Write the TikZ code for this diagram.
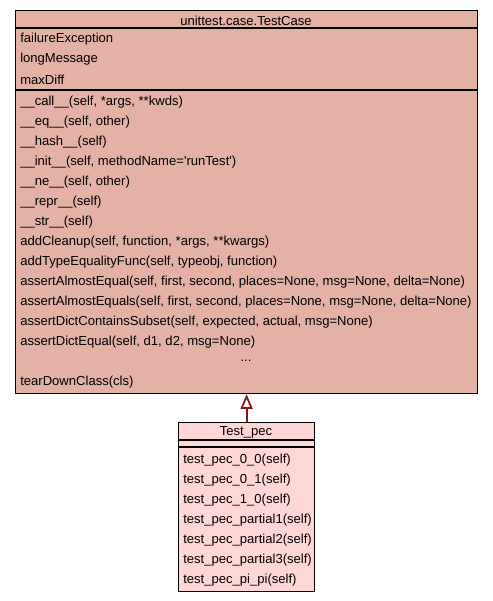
\documentclass[tikz,border=0pt]{standalone}
\usepackage{fontspec}
\setmainfont{Liberation Sans}
\usetikzlibrary{arrows.meta}
\definecolor{basefill}{RGB}{227,178,165}
\definecolor{derivfill}{RGB}{255,214,214}
\definecolor{inhcol}{RGB}{139,20,20}
\tikzset{
  member/.style={anchor=west, inner sep=0pt, font=\fontsize{9.8}{11}\selectfont},
  title/.style={inner sep=0pt, font=\fontsize{9.8}{11}\selectfont},
  classbox/.style={draw=black, line width=0.9pt, anchor=north west, inner sep=0pt}
}
\begin{document}
\begin{tikzpicture}[x=0.75pt, y=-0.75pt]
\useasboundingbox (0,0) rectangle (493,601);
% base class
\node[classbox, fill=basefill, minimum width=346.5pt, minimum height=287.25pt] (tc) at (15,10) {};
\draw[line width=0.9pt] (15,28) -- (477,28);
\draw[line width=0.9pt] (15,90) -- (477,90);
\node[title] (tctitle) at (246,20.5) {unittest.case.TestCase};
\foreach \a [count=\i] in {failureException,longMessage,maxDiff}
  \node[member] (attr\i) at (20,{19.5+20*\i}) {\a};
\foreach \m [count=\i] in {
  {\_\_call\_\_(self, *args, **kwds)},
  {\_\_eq\_\_(self, other)},
  {\_\_hash\_\_(self)},
  {\_\_init\_\_(self, methodName=\textquotesingle runTest\textquotesingle)},
  {\_\_ne\_\_(self, other)},
  {\_\_repr\_\_(self)},
  {\_\_str\_\_(self)},
  {addCleanup(self, function, *args, **kwargs)},
  {addTypeEqualityFunc(self, typeobj, function)},
  {assertAlmostEqual(self, first, second, places=None, msg=None, delta=None)},
  {assertAlmostEquals(self, first, second, places=None, msg=None, delta=None)},
  {assertDictContainsSubset(self, expected, actual, msg=None)},
  {assertDictEqual(self, d1, d2, msg=None)}}
  \node[member] (meth\i) at (20,{82.5+20*\i}) {\m};
\node[title] (dots) at (246,360.5) {...};
\node[member] (teardown) at (20,382.5) {tearDownClass(cls)};
% derived class
\node[classbox, fill=derivfill, minimum width=102pt, minimum height=126.75pt] (pec) at (178,422) {};
\draw[line width=0.9pt] (178,440) -- (314,440);
\draw[line width=0.9pt] (178,447) -- (314,447);
\node[title] (pectitle) at (246,432.5) {Test\_pec};
\foreach \m [count=\i] in {0\_0,0\_1,1\_0,partial1,partial2,partial3,pi\_pi}
  \node[member] (test\i) at (183,{440.5+20*\i}) {test\_pec\_\m(self)};
% inheritance
\draw[inhcol, line width=1.5pt, -{Triangle[open, fill=white, length=11pt, width=9pt, line width=1.3pt]}] (pec.north) -- (tc.south);
\end{tikzpicture}
\end{document}
